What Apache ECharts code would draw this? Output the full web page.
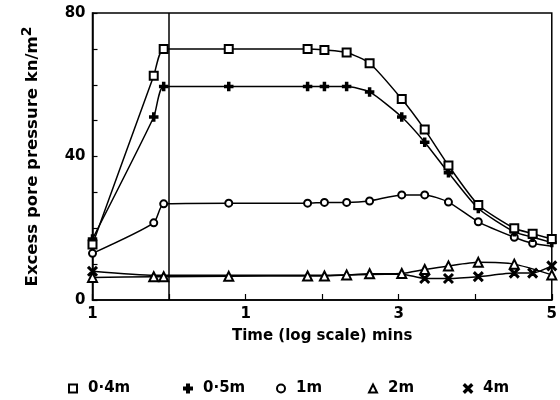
<!DOCTYPE html>
<html>
<head>
<meta charset="utf-8">
<script src="https://cdn.jsdelivr.net/npm/echarts@6/dist/echarts.min.js"></script>
<style>
  html, body { margin: 0; padding: 0; background: #fff; }
  #main { width: 560px; height: 400px; }
</style>
</head>
<body>
<div id="main"></div>
<script>
// time positions (log scale axis units, tick every 1)
var timePos = [0, 0.80, 0.93, 1.78, 2.81, 3.03, 3.32, 3.62, 4.04, 4.34, 4.65, 5.04, 5.51, 5.75, 6];
var xTickLabels = ['1', '', '1', '', '3', '', '5'];

// excess pore pressure kn/m2 at each depth
var depth04 = [15.5, 62.5, 70, 70, 70, 69.7, 69, 66, 56, 47.5, 37.5, 26.5, 20, 18.5, 17];
var depth05 = [17, 51, 59.5, 59.5, 59.5, 59.5, 59.5, 58, 51, 44, 35.5, 25.5, 19, 17.5, 16];
var depth1  = [13, 21.5, 26.8, 27, 27, 27.2, 27.2, 27.6, 29.3, 29.3, 27.3, 21.8, 17.5, 15.8, 15];
var depth2  = [6.3, 6.5, 6.5, 6.6, 6.7, 6.7, 7, 7.3, 7.4, 8.5, 9.5, 10.5, 10, null, 7];
var depth4  = [8, 6.9, 6.9, 6.9, 6.9, 6.9, 7, 7.1, 7.2, 6, 6, 6.5, 7.5, 7.5, 9.5];

// which readings carry a marker on the plot
var marked1 = [0, 1, 2, 3, 4, 5, 6, 7, 8, 9, 10, 11, 12, 13];
var marked4 = [0, 9, 10, 11, 12, 13, 14];

var FONT = 'DejaVu Sans';
var plusPath = 'path://M3,0h2v3h3v2h-3v3h-2v-3h-3v-2h3z';
var crossPath = 'path://M0,1.2L1.2,0L5,3.8L8.8,0L10,1.2L6.2,5L10,8.8L8.8,10L5,6.2L1.2,10L0,8.8L3.8,5Z';

function pairs(vals, marked) {
  var out = [];
  for (var i = 0; i < vals.length; i++) {
    if (vals[i] === null) continue;
    if (marked && marked.indexOf(i) < 0) {
      out.push({ value: [timePos[i], vals[i]], symbol: 'none' });
    } else {
      out.push([timePos[i], vals[i]]);
    }
  }
  return out;
}

function line(name, vals, symbol, size, marked) {
  return {
    name: name,
    type: 'line',
    data: pairs(vals, marked),
    symbol: symbol,
    symbolSize: size,
    smooth: 0.2,
    showAllSymbol: true,
    animation: false,
    color: '#000',
    lineStyle: { color: '#000', width: 1.5 },
    itemStyle: { color: '#000', borderColor: '#000', borderWidth: 1.5 }
  };
}

var series = [
  line('4m', depth4, crossPath, 9, marked4),
  line('2m', depth2, 'emptyTriangle', 9),
  line('1m', depth1, 'emptyCircle', 7, marked1),
  line('0·5m', depth05, plusPath, 8),
  line('0·4m', depth04, 'emptyRect', 8)
];
series[4].markLine = {
  silent: true,
  symbol: 'none',
  label: { show: false },
  lineStyle: { color: '#000', type: 'solid', width: 1.5 },
  data: [{ xAxis: 1 }]
};

function legendAt(name, icon, left) {
  return {
    data: [{ name: name, icon: icon }],
    left: left,
    top: 381,
    padding: 0,
    itemWidth: 8,
    itemHeight: 8,
    selectedMode: false,
    textStyle: { fontFamily: FONT, fontSize: 15, fontWeight: 'bold', color: '#000', padding: [0, 0, 0, 6] }
  };
}

var myChart = echarts.init(document.getElementById('main'));
myChart.setOption({
  animation: false,
  grid: {
    left: 92.5, right: 6, top: 13, bottom: 100,
    show: true, borderColor: '#000', borderWidth: 1.5
  },
  legend: [
    legendAt('0·4m', 'emptyRect', 68),
    legendAt('0·5m', plusPath, 183),
    legendAt('1m', 'emptyCircle', 276),
    legendAt('2m', 'emptyTriangle', 368),
    legendAt('4m', crossPath, 463)
  ],
  xAxis: {
    type: 'value',
    min: 0, max: 6, interval: 1,
    name: 'Time (log scale) mins',
    nameLocation: 'middle',
    nameGap: 29,
    nameTextStyle: { fontFamily: FONT, fontSize: 15, fontWeight: 'bold', color: '#000' },
    axisLine: { lineStyle: { color: '#000', width: 1.5 } },
    axisTick: { inside: true, length: 6, lineStyle: { color: '#000', width: 1.2 } },
    splitLine: { show: false },
    axisLabel: {
      margin: 7,
      fontFamily: FONT, fontSize: 15, fontWeight: 'bold', color: '#000',
      formatter: function (v) { return xTickLabels[Math.round(v)] || ''; }
    }
  },
  yAxis: {
    type: 'value',
    min: 0, max: 80, interval: 10,
    name: 'Excess pore pressure kn/m{sup|2}',
    nameLocation: 'middle',
    nameGap: 48,
    nameRotate: 90,
    nameTextStyle: {
      fontFamily: FONT, fontSize: 16.5, fontWeight: 'bold', color: '#000',
      lineHeight: 24, verticalAlign: 'bottom',
      rich: { sup: { fontFamily: FONT, fontSize: 14, fontWeight: 'bold', color: '#000', lineHeight: 12, verticalAlign: 'top' } }
    },
    axisLine: { lineStyle: { color: '#000', width: 1.5 } },
    axisTick: { inside: true, length: 5, lineStyle: { color: '#000', width: 1.2 } },
    splitLine: { show: false },
    axisLabel: {
      margin: 7,
      fontFamily: FONT, fontSize: 15, fontWeight: 'bold', color: '#000',
      formatter: function (v) { return v % 40 === 0 ? String(v) : ''; }
    }
  },
  series: series
});
</script>
</body>
</html>
